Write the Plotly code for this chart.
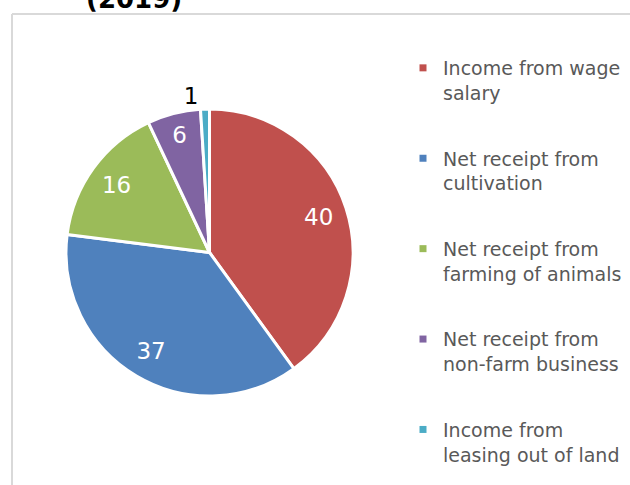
import plotly.graph_objects as go

# ---- data ----
categories = [
    "Income from wage salary",
    "Net receipt from cultivation",
    "Net receipt from farming of animals",
    "Net receipt from non-farm business",
    "Income from leasing out of land",
]
legend_labels = [
    "Income from wage<br>salary",
    "Net receipt from<br>cultivation",
    "Net receipt from<br>farming of animals",
    "Net receipt from<br>non-farm business",
    "Income from<br>leasing out of land",
]
values = [40, 37, 16, 6, 1]
colors = ["#C0504D", "#4F81BD", "#9BBB59", "#8064A2", "#4BACC6"]
title_text = "(2019)"

# ---- layout geometry ----
W, H = 630, 485
cx, cy, R = 209.5, 252.5, 143.5
domain = dict(x=[(cx - R) / W, (cx + R) / W], y=[1 - (cy + R) / H, 1 - (cy - R) / H])

fig = go.Figure()

# base pie (slices)
fig.add_trace(go.Pie(
    labels=categories, values=values, sort=False, direction="clockwise", rotation=0,
    marker=dict(colors=colors, line=dict(color="white", width=3)),
    textinfo="none", showlegend=False, domain=domain, hoverinfo="label+value",
))

# transparent ring carrying the value labels (places labels near the outer edge)
fig.add_trace(go.Pie(
    labels=categories, values=values, sort=False, direction="clockwise", rotation=0,
    hole=0.6,
    marker=dict(colors=["rgba(0,0,0,0)"] * len(values), line=dict(width=0)),
    textinfo="value",
    textposition=["inside"] * 4 + ["outside"],
    insidetextorientation="horizontal",
    insidetextfont=dict(color="white", size=23, family="DejaVu Sans"),
    outsidetextfont=dict(color="black", size=23, family="DejaVu Sans"),
    showlegend=False, domain=domain, hoverinfo="skip",
))

# legend entries
for lab, col in zip(legend_labels, colors):
    fig.add_trace(go.Scatter(
        x=[None], y=[None], mode="markers",
        marker=dict(symbol="square", size=7, color=col),
        name=lab, legendgroup=lab, showlegend=True,
    ))

fig.update_layout(
    width=W, height=H,
    margin=dict(l=0, r=0, t=0, b=0),
    paper_bgcolor="white", plot_bgcolor="white",
    xaxis=dict(visible=False), yaxis=dict(visible=False),
    legend=dict(
        x=403 / W, xanchor="left", y=1 - 49 / H, yanchor="top",
        valign="top", tracegroupgap=38,
        font=dict(family="DejaVu Sans", size=19, color="#595959"),
        bgcolor="rgba(0,0,0,0)",
    ),
    shapes=[
        dict(type="line", xref="paper", yref="paper", x0=12 / W, x1=12 / W, y0=0, y1=1 - 14 / H,
             line=dict(color="#D9D9D9", width=2)),
        dict(type="line", xref="paper", yref="paper", x0=12 / W, x1=1, y0=1 - 14 / H, y1=1 - 14 / H,
             line=dict(color="#D9D9D9", width=2)),
    ],
    annotations=[
        dict(text="<b>" + title_text + "</b>", xref="paper", yref="paper", x=134 / W, y=1,
             xanchor="center", yanchor="bottom", yshift=-16, showarrow=False,
             font=dict(family="DejaVu Sans", size=26, color="black")),
    ],
)

fig.write_html(
    "out.html",
    config={"displayModeBar": False},
    post_script="document.body.style.margin='0';document.body.style.overflow='hidden';",
)
